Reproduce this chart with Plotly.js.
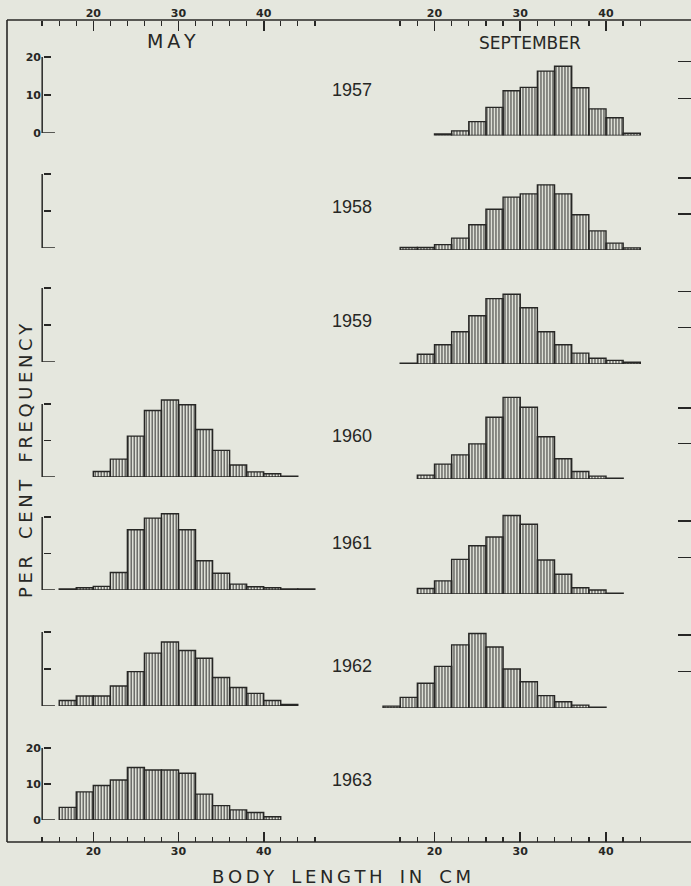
<!DOCTYPE html>
<html>
<head>
<meta charset="utf-8">
<script src="https://cdn.plot.ly/plotly-3.0.1.min.js"></script>
<style>
html,body{margin:0;padding:0;background:#e5e7de;}
#chart{width:691px;height:886px;}
</style>
</head>
<body>
<div id="chart"></div>
<script>
// Per cent frequency by body length, 2 cm length classes.
// "...Start" is the lower edge (cm) of the first class of each series.
const years = ['1957', '1958', '1959', '1960', '1961', '1962', '1963'];
const yTicks = [0, 10, 20];
const lengthTicks = [20, 30, 40];
const mayMinorTicks = [14, 16, 18, 20, 22, 24, 26, 28, 30, 32, 34, 36, 38, 40, 42, 44, 46];
const sepMinorTicks = [16, 18, 20, 22, 24, 26, 28, 30, 32, 34, 36, 38, 40, 42, 44];
const classWidth = 2;

// May samples (no May samples in 1957-1959)
const may1960Start = 20;
const may1960 = [1.5, 4.9, 11.2, 18.2, 21.1, 19.8, 13.0, 7.3, 3.3, 1.4, 0.9, 0.2];
const may1961Start = 16;
const may1961 = [0.3, 0.6, 1.0, 4.8, 16.5, 19.7, 20.9, 16.5, 8.0, 4.6, 1.6, 0.9, 0.6, 0.3, 0.3];
const may1962Start = 16;
const may1962 = [1.5, 2.7, 2.7, 5.4, 9.3, 14.3, 17.3, 15.0, 12.9, 7.7, 5.0, 3.4, 1.5, 0.4];
const may1963Start = 16;
const may1963 = [3.5, 7.8, 9.6, 11.1, 14.6, 13.9, 13.9, 13.0, 7.2, 4.0, 2.8, 2.1, 0.9];

// September samples (none in 1963)
const sep1957Start = 20;
const sep1957 = [0.4, 1.25, 3.75, 7.6, 12.1, 13.0, 17.4, 18.7, 12.9, 7.2, 4.8, 0.6];
const sep1958Start = 16;
const sep1958 = [0.7, 0.7, 1.5, 3.3, 7.0, 11.3, 14.7, 15.6, 18.1, 15.6, 9.8, 5.3, 1.9, 0.6];
const sep1959Start = 16;
const sep1959 = [0.2, 2.7, 5.3, 8.9, 13.3, 18.0, 19.2, 15.5, 8.9, 5.3, 3.0, 1.6, 1.0, 0.5];
const sep1960Start = 18;
const sep1960 = [1.1, 4.2, 6.8, 9.9, 17.4, 23.0, 20.2, 11.9, 5.7, 2.1, 0.8, 0.2];
const sep1961Start = 18;
const sep1961 = [1.5, 3.6, 9.5, 13.2, 15.6, 21.5, 19.1, 9.3, 5.4, 1.7, 1.1, 0.2];
const sep1962Start = 14;
const sep1962 = [0.5, 2.9, 6.8, 11.4, 17.3, 20.4, 16.7, 10.7, 7.2, 3.4, 1.7, 0.8, 0.2];

const maySeries = [null, null, null,
  {start: may1960Start, values: may1960},
  {start: may1961Start, values: may1961},
  {start: may1962Start, values: may1962},
  {start: may1963Start, values: may1963}];
const sepSeries = [
  {start: sep1957Start, values: sep1957},
  {start: sep1958Start, values: sep1958},
  {start: sep1959Start, values: sep1959},
  {start: sep1960Start, values: sep1960},
  {start: sep1961Start, values: sep1961},
  {start: sep1962Start, values: sep1962},
  null];

// ---- page geometry (pixels) ----
const W = 691, H = 886;
const px = v => v / W;
const py = v => 1 - v / H;
const INK = '#272725';
const PAPER = '#e5e7de';

const xRange = [13, 47];
const mayX20 = 93.3, mayPxCm = 8.52;
const sepX20 = 434.5, sepPxCm = 8.575;
const colDomain = (x20, k) => [px(x20 + (xRange[0] - 20) * k), px(x20 + (xRange[1] - 20) * k)];
const mayDomain = colDomain(mayX20, mayPxCm);
const sepDomain = colDomain(sepX20, sepPxCm);

const yMax = 25;
const mayBase = [133, 248, 362, 477, 590, 706, 820];
const mayP10 = [38, 37, 37, 36.5, 36.5, 37, 36];
const sepBase = [135.5, 250, 364, 479, 594, 708, 821];
const sepP10 = [37, 36, 36.3, 35.5, 36.5, 36.5, 36];
const yearY = [90, 207, 321, 436, 543, 666, 780];
const frameL = 7, frameT = 20, frameB = 842;

const tickFont = {family: 'DejaVu Sans', size: 11, color: INK, weight: 'bold'};

const layout = {
  width: W, height: H,
  margin: {l: 0, r: 0, t: 0, b: 0, pad: 0},
  paper_bgcolor: PAPER, plot_bgcolor: 'rgba(0,0,0,0)',
  showlegend: false, bargap: 0,
  shapes: [], annotations: []
};

function lengthAxis(domain, minor, side, pos) {
  return {
    domain: domain, range: xRange, anchor: 'free', position: pos, side: side,
    showgrid: false, zeroline: false, showline: false,
    tickmode: 'array', tickvals: lengthTicks, ticks: 'inside',
    ticklen: 10, tickwidth: 1.6, tickcolor: INK, tickfont: tickFont, ticklabelstandoff: 1,
    minor: {tickmode: 'array', tickvals: minor, ticks: 'inside', ticklen: 5, tickwidth: 1.4, tickcolor: INK, showgrid: false},
    fixedrange: true
  };
}
layout.xaxis = lengthAxis(mayDomain, mayMinorTicks, 'bottom', py(frameB));
layout.xaxis2 = lengthAxis(sepDomain, sepMinorTicks, 'bottom', py(frameB));
layout.xaxis3 = lengthAxis(mayDomain, mayMinorTicks, 'top', py(frameT));
layout.xaxis4 = lengthAxis(sepDomain, sepMinorTicks, 'top', py(frameT));

const traces = [];
const barStyle = {
  color: 'rgba(0,0,0,0)',
  line: {color: INK, width: 1.4},
  pattern: {shape: '|', fgcolor: '#333331', bgcolor: 'rgba(0,0,0,0)', size: 3, solidity: 0.36, fillmode: 'replace'}
};

years.forEach((yr, r) => {
  const mIdx = r + 1, sIdx = r + 8;
  const mName = mIdx === 1 ? 'y' : 'y' + mIdx;
  const sName = 'y' + sIdx;
  const showLab = (r === 0 || r === years.length - 1);
  // May panel: axis at 14 cm with inward ticks
  layout['yaxis' + (mIdx === 1 ? '' : mIdx)] = {
    domain: [py(mayBase[r]), py(mayBase[r] - yMax / 10 * mayP10[r])],
    range: [0, yMax], anchor: 'free', position: px(43), side: 'left',
    showgrid: false, zeroline: false, showline: false,
    tickmode: 'array', tickvals: yTicks, ticks: 'inside', ticklen: 7, tickwidth: 1.4, tickcolor: INK,
    showticklabels: showLab, tickfont: tickFont, ticklabelstandoff: 2, fixedrange: true
  };
  // September panel: ticks along the right edge
  layout['yaxis' + sIdx] = {
    domain: [py(sepBase[r]), py(sepBase[r] - yMax / 10 * sepP10[r])],
    range: [0, yMax], anchor: 'free', position: 1, side: 'right',
    showgrid: false, zeroline: false, showline: false,
    tickmode: 'array', tickvals: yTicks, ticks: 'inside', ticklen: 13, tickwidth: 1.4, tickcolor: INK,
    showticklabels: false, fixedrange: true
  };
  // May axis line 0-20 % and its foot
  layout.shapes.push({type: 'line', xref: 'x', yref: mName, x0: 14, x1: 14, y0: 0, y1: 20, line: {color: INK, width: 1.5}});
  layout.shapes.push({type: 'line', xref: 'x', yref: mName, x0: 14, x1: 15.5, y0: 0, y1: 0, line: {color: INK, width: 1.5}});

  const m = maySeries[r], s = sepSeries[r];
  if (m) traces.push({type: 'bar', x0: m.start + classWidth / 2, dx: classWidth, y: m.values, width: classWidth,
    xaxis: 'x', yaxis: mName, marker: barStyle, hoverinfo: 'skip'});
  if (s) traces.push({type: 'bar', x0: s.start + classWidth / 2, dx: classWidth, y: s.values, width: classWidth,
    xaxis: 'x2', yaxis: sName, marker: barStyle, hoverinfo: 'skip'});

  layout.annotations.push({xref: 'paper', yref: 'paper', x: px(352), y: py(yearY[r]), text: yr, showarrow: false,
    xanchor: 'center', yanchor: 'middle', font: {family: 'Liberation Sans', size: 18, color: INK}});
});

// empty traces so the top scales are drawn
traces.push({type: 'scatter', x: [], y: [], xaxis: 'x3', yaxis: 'y', hoverinfo: 'skip'});
traces.push({type: 'scatter', x: [], y: [], xaxis: 'x4', yaxis: 'y8', hoverinfo: 'skip'});

// Figure frame
layout.shapes.push({type: 'line', xref: 'paper', yref: 'paper', x0: px(frameL), x1: px(frameL), y0: py(frameT), y1: py(frameB), line: {color: INK, width: 1.6}});
layout.shapes.push({type: 'line', xref: 'paper', yref: 'paper', x0: px(frameL), x1: 1.01, y0: py(frameT), y1: py(frameT), line: {color: INK, width: 1.6}});
layout.shapes.push({type: 'line', xref: 'paper', yref: 'paper', x0: px(frameL), x1: 1.01, y0: py(frameB), y1: py(frameB), line: {color: INK, width: 1.6}});

const sp = '\u2009';
const spaced = t => t.split('').join(sp);
const label = (x, y, text, size, angle) => ({
  xref: 'paper', yref: 'paper', x: px(x), y: py(y), text: text, showarrow: false,
  xanchor: 'center', yanchor: 'middle', textangle: angle || 0, borderpad: 0,
  font: {family: 'DejaVu Sans', size: size, color: INK}
});
layout.annotations.push(
  label(171, 41, spaced('MAY'), 19),
  label(530, 43, 'SEPTEMBER', 17),
  label(25, 461, spaced('PER') + '   ' + spaced('CENT') + '   ' + spaced('FREQUENCY'), 18, -90),
  label(341, 876, spaced('BODY') + '   ' + spaced('LENGTH') + '   ' + spaced('IN') + '   ' + spaced('CM'), 18)
);

Plotly.newPlot('chart', traces, layout, {staticPlot: true, displayModeBar: false});
</script>
</body>
</html>
